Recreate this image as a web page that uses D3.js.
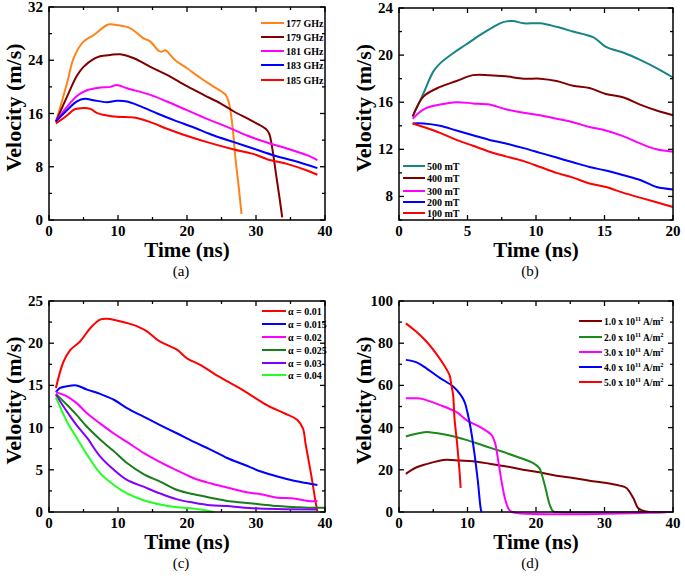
<!DOCTYPE html>
<html>
<head>
<meta charset="utf-8">
<script src="https://cdn.jsdelivr.net/npm/d3@7"></script>
<style>
  body { margin: 0; background: #fff; }
  svg { display: block; }
  text { font-family: "Liberation Serif", "Times New Roman", serif; }
</style>
</head>
<body>
<div class="chart"></div>
<script>
// (a) frequency series, [time ns, velocity m/s]
const a177 = [[1,14.7],[2.6,20.5],[3.6,24.4],[5,26.8],[6.5,27.8],[8.4,29.3],[8.9,29.4],[9.8,29.3],[11.8,28.8],[13.7,27.3],[14.7,26.8],[15.9,25.4],[16.4,25.3],[16.9,25.5],[17.4,25.0],[18.3,24],[20,22.8],[22,21.3],[23.9,20],[25.6,18.8],[26.1,17.5],[26.6,14],[27,9.5],[27.5,4.9],[27.9,0.9]];
const a179 = [[1,14.8],[2.6,18.5],[4,21.6],[5,23],[6.5,24.2],[7.4,24.6],[8.9,24.8],[10.3,24.9],[12.3,24.3],[14.7,23],[17.1,21.8],[20,20.1],[22.4,18.8],[24.9,17.5],[26.8,16.3],[29.2,15],[31.4,13.7],[31.9,13],[32.4,10.5],[32.9,6.9],[33.4,3.4],[33.8,0.4]];
const a181 = [[1,14.8],[2.6,17],[4,18.6],[5.5,19.5],[7.4,19.9],[8.9,20],[9.8,20.3],[11.3,19.8],[14.7,18.8],[17.1,17.8],[20,16.5],[22.9,15.2],[25.8,14],[28.7,12.7],[31.7,11.6],[34.6,10.7],[37.5,9.7],[38.9,9]];
const a183 = [[1,14.8],[2.6,16.5],[4,17.8],[5.2,18.2],[6.4,18],[8.4,17.7],[9.8,17.9],[11.3,17.8],[13.2,17.1],[15.7,16],[18.1,15],[21,13.9],[23.9,12.7],[26.8,11.7],[29.7,10.7],[32.6,9.7],[35.5,8.9],[38.9,7.8]];
const a185 = [[1,14.5],[2.6,15.7],[3.5,16.5],[4,16.7],[6,16.7],[6.9,16.1],[8.4,15.7],[9.8,15.5],[12.3,15.4],[14.7,14.7],[17.1,13.7],[19.5,12.8],[22.9,11.7],[26.8,10.6],[29.7,9.9],[31.7,9.1],[34.6,8.4],[37.5,7.4],[38.9,6.8]];
const aNames = ["177 GHz", "179 GHz", "181 GHz", "183 GHz", "185 GHz"];

// (b) field series
const b500 = [[1,14.8],[1.8,16.8],[2.5,18.6],[3,19.3],[4,20.2],[4.9,20.9],[5.9,21.7],[6.9,22.4],[7.6,22.8],[8.3,22.9],[9.1,22.7],[10.3,22.7],[11.5,22.4],[12.7,22],[14.2,21.5],[15.1,20.7],[16.4,20.2],[17.6,19.6],[18.8,18.9],[20,18.1]];
const b400 = [[1,14.8],[1.8,16.5],[3,17.3],[4.2,17.8],[5.4,18.3],[6.6,18.3],[7.8,18.2],[9.1,18],[10.3,18],[11.5,17.8],[12.7,17.4],[13.9,17.2],[15.1,16.7],[16.4,16.4],[17.6,15.8],[18.8,15.3],[20,14.9]];
const b300 = [[1,14.6],[1.8,15.4],[3,15.8],[4.2,16],[5.4,15.9],[6.6,15.8],[7.8,15.4],[9.1,15.1],[10.3,14.9],[11.5,14.6],[12.7,14.3],[13.9,13.9],[15.1,13.6],[16.4,13.1],[17.6,12.5],[18.8,12],[20,11.8]];
const b200 = [[1,14.2],[1.8,14.2],[3,14],[4.2,13.6],[5.4,13.2],[6.6,12.8],[7.8,12.5],[9.1,12.1],[10.3,11.7],[11.5,11.3],[12.7,10.9],[13.9,10.5],[15.1,10.2],[16.4,9.8],[17.6,9.4],[18.8,8.8],[20,8.6]];
const b100 = [[1,14.2],[1.8,13.9],[3,13.4],[4.2,12.8],[5.4,12.3],[6.6,11.8],[7.8,11.4],[9.1,11],[10.3,10.5],[11.5,10],[12.7,9.6],[13.9,9.1],[15.1,8.8],[16.4,8.3],[17.6,7.9],[18.8,7.5],[20,7.1]];
const bNames = ["500 mT", "400 mT", "300 mT", "200 mT", "100 mT"];

// (c) damping series
const c001 = [[1,14.7],[2.1,17.8],[3.1,19.2],[4.5,20.2],[6,21.8],[7.4,22.8],[8.4,22.9],[9.8,22.7],[11.3,22.4],[12.8,22],[14.2,21.4],[15.7,20.4],[17.1,19.8],[18.6,19.2],[20,18.2],[22,17.4],[23.9,16.4],[25.8,15.5],[27.8,14.6],[29.7,13.6],[31.7,12.6],[34.1,11.7],[36,10.9],[36.8,9.9],[37.2,8],[38,4.4],[38.7,0.9],[38.9,0.1]];
const c0015 = [[1,14.2],[1.6,14.7],[2.6,14.9],[4,15],[5.5,14.5],[7.4,14],[9.4,13.3],[11.3,12.3],[13.7,11.3],[16.1,10.3],[18.6,9.3],[21,8.3],[23.4,7.4],[25.8,6.4],[28.3,5.6],[30.7,4.8],[33.1,4.2],[35.5,3.7],[37.5,3.4],[38.9,3.2]];
const c002 = [[1,14.2],[2.6,13.7],[4,12.9],[5.5,11.7],[7.4,10.5],[9.4,9.3],[11.3,8.3],[13.7,7],[16.1,5.9],[18.6,4.9],[21,4],[23.4,3.4],[25.8,2.9],[28.3,2.4],[30.7,2.1],[33.1,1.7],[35.5,1.6],[37.5,1.3],[38.9,1.3]];
const c0025 = [[1,14],[2.6,12.7],[4,11.5],[5.5,10.1],[7.4,8.6],[9.4,7.2],[11.3,5.8],[13.7,4.5],[16.1,3.6],[18.6,2.6],[21,2.1],[23.4,1.7],[25.8,1.3],[28.3,1.1],[30.7,0.9],[33.1,0.7],[35.5,0.6],[37.5,0.5],[39.9,0.5]];
const c003 = [[1,13.9],[2.6,11.9],[4,10.3],[5.5,8.8],[7.4,6.6],[9.4,5],[11.3,3.8],[13.7,3],[16.1,2.2],[18.6,1.5],[21,1.1],[23.4,0.8],[25.8,0.7],[28.3,0.5],[33.1,0.35],[38.9,0.3]];
const c004 = [[1,13.6],[2.6,10.7],[4,8.8],[5.5,6.8],[7.4,4.6],[9.4,3.2],[11.3,2.2],[13.7,1.4],[16.1,0.9],[18.6,0.55],[21,0.4],[23.4,0.1],[23.9,0]];
const cNames = ["α = 0.01", "α = 0.015", "α = 0.02", "α = 0.025", "α = 0.03", "α = 0.04"];

// (d) current density series
const d1 = [[1,18.1],[2.5,21.1],[4,22.7],[5.9,24.3],[6.9,24.8],[8.9,24.4],[10.8,24],[13.2,22.9],[15.7,21.6],[18.1,20],[20.5,18.8],[23,17.2],[25.4,16.1],[27.8,14.8],[30.3,13.7],[32.2,12.5],[33.2,11.4],[34.2,6.6],[34.9,1.9],[35.6,0.6],[36.6,0],[39.3,0]];
const d2 = [[1,35.8],[2.5,37.1],[4,37.9],[5.4,37.4],[7.4,36.3],[9.8,34.2],[12.3,31.5],[14.7,29],[17.1,26.3],[19.6,23.2],[20.5,20.8],[21,16.1],[21.5,9.8],[22,3.5],[22.5,0.3],[23,0],[39.3,0]];
const d3s = [[1,53.9],[2.5,53.9],[3.5,53.5],[5.9,50.8],[8.4,47.3],[10,43.2],[12,40],[13.5,36.5],[14,33],[14.5,24],[15,14],[15.5,6],[16,1.5],[16.5,0],[39.3,0]];
const d4 = [[1,72.1],[2.5,71],[4,68.1],[5.9,63.7],[7.9,59.5],[9,55.5],[9.6,52],[10,47],[10.5,39],[11,28],[11.5,15],[12,0.5],[12.1,0]];
const d5 = [[1,89.4],[2.5,85.5],[4,80.8],[5.4,75.2],[6.4,70.5],[7.4,64.7],[7.6,61],[7.9,55.5],[8.1,44.5],[8.5,31.9],[8.8,20.8],[9,11.4]];
const dMant = ["1.0", "2.0", "3.0", "4.0", "5.0"];

const svg = d3.select(".chart")
    .append("svg")
    .attr("width", 685)
    .attr("height", 578);

const line = (x, y) => d3.line()
    .x(d => x(d[0]))
    .y(d => y(d[1]))
    .curve(d3.curveCatmullRom.alpha(0.5));

function drawPanel(p) {
    const x = d3.scaleLinear().domain(p.xd).range([p.left, p.right]);
    const y = d3.scaleLinear().domain(p.yd).range([p.bottom, p.top]);
    const g = svg.append("g");

    // minor + major ticks, inward on all four sides
    const xMinor = d3.range(p.xd[0], p.xd[1] + 1e-9, p.xm);
    const yMinor = d3.range(p.yd[0], p.yd[1] + 1e-9, p.ym);
    const isMajor = (v, step) => Math.abs(v / step - Math.round(v / step)) < 1e-6;

    xMinor.forEach(v => {
        const len = isMajor(v, p.xs) ? 5 : 3;
        g.append("line").attr("x1", x(v)).attr("x2", x(v)).attr("y1", p.bottom).attr("y2", p.bottom - len);
        g.append("line").attr("x1", x(v)).attr("x2", x(v)).attr("y1", p.top).attr("y2", p.top + len);
    });
    yMinor.forEach(v => {
        const len = isMajor(v - p.yd[0] + p.yoff, p.ys) ? 5 : 3;
        g.append("line").attr("y1", y(v)).attr("y2", y(v)).attr("x1", p.left).attr("x2", p.left + len);
        g.append("line").attr("y1", y(v)).attr("y2", y(v)).attr("x1", p.right).attr("x2", p.right - len);
    });
    g.selectAll("line").attr("stroke", "#000").attr("stroke-width", 1.3);

    // tick labels
    p.xt.forEach(v => {
        g.append("text")
            .attr("x", x(v)).attr("y", p.bottom + 16)
            .attr("text-anchor", "middle")
            .style("font-size", "15px").style("font-weight", "bold")
            .text(v);
    });
    p.yt.forEach(v => {
        g.append("text")
            .attr("x", p.left - 6).attr("y", y(v) + 5)
            .attr("text-anchor", "end")
            .style("font-size", "15px").style("font-weight", "bold")
            .text(v);
    });

    // series
    p.series.forEach((s, i) => {
        g.append("path")
            .attr("d", line(x, y)(s))
            .attr("fill", "none")
            .attr("stroke", p.colors[i])
            .attr("stroke-width", 2)
            .attr("stroke-linejoin", "round");
    });

    // frame
    g.append("rect")
        .attr("x", p.left).attr("y", p.top)
        .attr("width", p.right - p.left).attr("height", p.bottom - p.top)
        .attr("fill", "none").attr("stroke", "#000").attr("stroke-width", 1.5);

    // axis titles
    g.append("text")
        .attr("x", (p.left + p.right) / 2).attr("y", p.bottom + 37)
        .attr("text-anchor", "middle")
        .style("font-size", "21px").style("font-weight", "bold")
        .text("Time (ns)");
    g.append("text")
        .attr("transform", "translate(" + (p.left - 28) + "," + ((p.top + p.bottom) / 2 - 6) + ") rotate(-90)")
        .attr("text-anchor", "middle")
        .style("font-size", "22px").style("font-weight", "bold")
        .text("Velocity (m/s)");
    g.append("text")
        .attr("x", (p.left + p.right) / 2 - 6).attr("y", p.bottom + 56)
        .attr("text-anchor", "middle")
        .style("font-size", "15px")
        .text(p.tag);

    // legend
    const lg = p.legend;
    p.colors.forEach((c, i) => {
        g.append("line")
            .attr("x1", lg.x1).attr("x2", lg.x2)
            .attr("y1", lg.ys[i]).attr("y2", lg.ys[i])
            .attr("stroke", c).attr("stroke-width", 2);
        const t = g.append("text")
            .attr("x", lg.x2 + 2).attr("y", lg.ys[i] + 3.5)
            .style("font-size", "10px").style("font-weight", "bold");
        if (p.names) {
            t.text(p.names[i]);
        } else {
            t.style("font-size", "9.5px");
            t.append("tspan").text(dMant[i] + " x 10");
            t.append("tspan").attr("dy", -4).style("font-size", "6.5px").text("11");
            t.append("tspan").attr("dy", 4).text(" A/m");
            t.append("tspan").attr("dy", -4).style("font-size", "6.5px").text("2");
        }
    });
}

drawPanel({
    left: 49, right: 325, top: 7, bottom: 220,
    xd: [0, 40], yd: [0, 32], xs: 10, xm: 5, ys: 8, ym: 4, yoff: 0,
    xt: [0, 10, 20, 30, 40], yt: [0, 8, 16, 24, 32],
    series: [a177, a179, a181, a183, a185],
    colors: ["#FF8418", "#800000", "#FF00FF", "#0000FF", "#FF0000"],
    names: aNames, tag: "(a)",
    legend: { x1: 261, x2: 284, ys: [23, 37, 51, 65, 80] }
});

drawPanel({
    left: 399, right: 673, top: 8, bottom: 220,
    xd: [0, 20], yd: [6, 24], xs: 5, xm: 2.5, ys: 4, ym: 2, yoff: 2,
    xt: [0, 5, 10, 15, 20], yt: [8, 12, 16, 20, 24],
    series: [b500, b400, b300, b200, b100],
    colors: ["#158585", "#800000", "#FF00FF", "#0000FF", "#FF0000"],
    names: bNames, tag: "(b)",
    legend: { x1: 403, x2: 425, ys: [166, 178, 191, 202, 213] }
});

drawPanel({
    left: 49, right: 325, top: 301, bottom: 512,
    xd: [0, 40], yd: [0, 25], xs: 10, xm: 5, ys: 5, ym: 2.5, yoff: 0,
    xt: [0, 10, 20, 30, 40], yt: [0, 5, 10, 15, 20, 25],
    series: [c001, c0015, c002, c0025, c003, c004],
    colors: ["#FF0000", "#0000FF", "#FF00FF", "#1A7D1A", "#8000FF", "#22FF22"],
    names: cNames, tag: "(c)",
    legend: { x1: 262, x2: 286, ys: [311, 324, 337, 350, 363, 375] }
});

drawPanel({
    left: 399, right: 673, top: 301, bottom: 512,
    xd: [0, 40], yd: [0, 100], xs: 10, xm: 5, ys: 20, ym: 10, yoff: 0,
    xt: [0, 10, 20, 30, 40], yt: [0, 20, 40, 60, 80, 100],
    series: [d1, d2, d3s, d4, d5],
    colors: ["#800000", "#1A8A1A", "#FF00FF", "#0000FF", "#FF0000"],
    names: null, tag: "(d)",
    legend: { x1: 579, x2: 602, ys: [321, 337, 352, 367, 382] }
});
</script>
</body>
</html>
